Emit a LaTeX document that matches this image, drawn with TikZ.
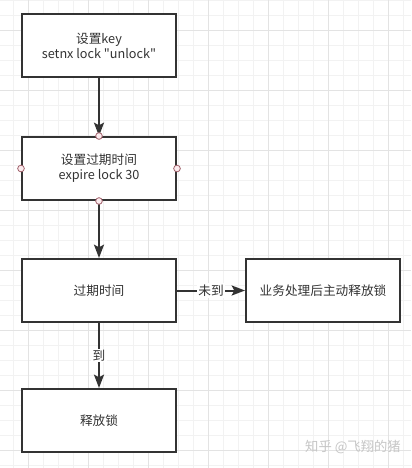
\documentclass[tikz,border=0pt]{standalone}
\usepackage{fontspec}
\setmainfont{Noto Sans CJK SC}[Ligatures=TeXOff]
\usepackage{xcolor}
\usetikzlibrary{positioning, arrows.meta}

\definecolor{inkgray}{HTML}{333333}
\definecolor{portred}{HTML}{A0606A}
\definecolor{portpink}{HTML}{FBEBEE}

\begin{document}
\begin{tikzpicture}[
    x=0.75pt, y=-0.75pt,
    node distance=43.5pt and 51pt,
    every node/.style={font=\fontsize{9.5pt}{11.25pt}\selectfont, text=inkgray},
    stepbox/.style={draw=inkgray, line width=1.5pt, minimum width=115.5pt, minimum height=47.25pt, align=center, inner sep=2pt},
    arrow/.style={-{Stealth[length=10pt, width=7.5pt, inset=2pt]}, line width=1.5pt, draw=inkgray},
    lbl/.style={fill=white, inner sep=1pt},
    port/.style={circle, draw=portred, fill=portpink, line width=0.6pt, minimum size=5pt, inner sep=0pt},
    minorgrid/.style={draw=gray!10, line width=0.4pt},
    majorgrid/.style={draw=gray!22, line width=0.5pt},
    watermark/.style={font=\fontsize{10pt}{12pt}\selectfont, text=gray!45},
  ]

  % ---- Background grid ----
  \useasboundingbox (0,0) rectangle (411,468);
  \fill[white] (0,0) rectangle (411,468);
  \foreach \x in {13,28,...,403} \draw[minorgrid] (\x,0) -- (\x,468);
  \foreach \y in {0,15,...,465} \draw[minorgrid] (0,\y) -- (411,\y);
  \foreach \x in {28,88,...,388} \draw[majorgrid] (\x,0) -- (\x,468);
  \foreach \y in {30,90,...,450} \draw[majorgrid] (0,\y) -- (411,\y);

  % ---- Steps ----
  \node[stepbox, fill=white] (setkey) at (99,45.5) {设置key\\setnx lock "unlock"};
  \node[stepbox, fill=white, below=of setkey] (expire) {设置过期时间\\expire lock 30};
  \node[stepbox, fill=white, below=42.75pt of expire] (timeout) {过期时间};
  \node[stepbox, fill=white, below=48.75pt of timeout] (release) {释放锁};
  \node[stepbox, fill=white, right=of timeout] (manual) {业务处理后主动释放锁};

  % ---- Arrows ----
  \draw[arrow] (setkey) -- (expire);
  \draw[arrow] (expire) -- (timeout);
  \draw[arrow] (timeout) -- node[lbl] (reached) {到} (release);
  \draw[arrow] (timeout) -- node[lbl] (notreached) {未到} (manual);

  % ---- Ports of the selected step ----
  \node[port] (porttop) at (expire.north) {};
  \node[port] (portbottom) at (expire.south) {};
  \node[port] (portleft) at (expire.west) {};
  \node[port] (portright) at (expire.east) {};

  % ---- Watermark ----
  \node[watermark] (mark) at (353,447) {知乎 @飞翔的猪};

\end{tikzpicture}
\end{document}
